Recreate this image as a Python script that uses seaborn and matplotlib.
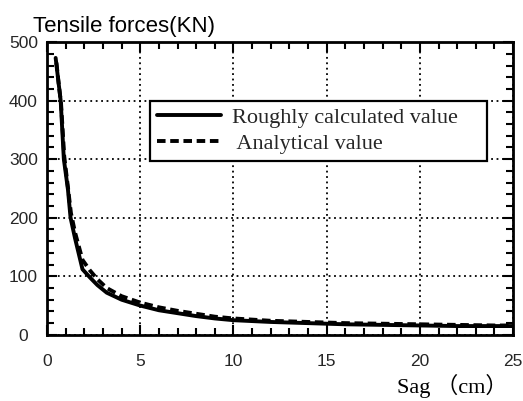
import pandas as pd
import matplotlib
matplotlib.use("Agg")
import matplotlib.pyplot as plt
import seaborn as sns
from matplotlib.ticker import MultipleLocator


# Data

sag_rough = [0.46, 0.6, 0.73, 0.9, 1.12, 1.26, 1.5, 1.9, 2.3, 2.7, 3.2, 4.0, 5.0,
             6.0, 7.0, 8.0, 9.0, 10.0, 12.0, 14.0, 16.0, 18.0, 20.0, 22.0, 24.0, 25.0]
force_rough = [473, 435, 400, 300, 248, 200, 165, 112, 98, 85, 72, 60, 50,
               42, 37, 32, 28, 25, 22, 20, 18, 17, 16, 15, 15, 15]

sag_analytic = [0.5, 0.62, 0.75, 0.92, 1.12, 1.28, 1.5, 1.9, 2.3, 2.7, 3.2, 4.0, 5.0,
                6.0, 7.0, 8.0, 9.0, 10.0, 12.0, 14.0, 16.0, 18.0, 20.0, 22.0, 24.0, 25.0]
force_analytic = [465, 430, 395, 305, 252, 208, 175, 128, 110, 95, 80, 66, 55,
                  47, 41, 36, 31, 28, 24, 22, 20, 19, 18, 17, 16, 16]

label_rough = "Roughly calculated value"
label_analytic = " Analytical value"

x_ticks = [0, 5, 10, 15, 20, 25]
y_ticks = [0, 100, 200, 300, 400, 500]

df_rough = pd.DataFrame({"sag": sag_rough, "force": force_rough})
df_analytic = pd.DataFrame({"sag": sag_analytic, "force": force_analytic})


# Style

sns.set_style("ticks")
plt.rcParams["font.family"] = ["Liberation Sans", "DejaVu Sans"]

fig = plt.figure(figsize=(5.23, 4.01), dpi=100)
ax = fig.add_axes([0.090, 0.165, 0.891, 0.730])

sns.lineplot(data=df_rough, x="sag", y="force", ax=ax, color="black",
             linewidth=2.8, label=label_rough, sort=False)
sns.lineplot(data=df_analytic, x="sag", y="force", ax=ax, color="black",
             linewidth=2.8, linestyle=(0, (2.2, 1.2)), label=label_analytic, sort=False)

ax.set_xlim(0, 25)
ax.set_ylim(0, 500)
ax.set_xticks(x_ticks)
ax.set_yticks(y_ticks)
ax.xaxis.set_minor_locator(MultipleLocator(1))
ax.yaxis.set_minor_locator(MultipleLocator(20))
ax.set_xlabel("")
ax.set_ylabel("")

ax.grid(True, which="major", color="black", linestyle=(0, (1, 2)), linewidth=1.3)

for side in ["left", "right", "top", "bottom"]:
    ax.spines[side].set_visible(True)
    ax.spines[side].set_linewidth(2)
    ax.spines[side].set_color("black")

ax.tick_params(which="both", direction="in", top=True, right=True,
               color="black", width=1.5)
ax.tick_params(which="major", length=7)
ax.tick_params(which="minor", length=5)
ax.tick_params(axis="x", which="major", pad=14, labelsize=12.5)
ax.tick_params(axis="y", which="major", pad=17, labelsize=12.5)

for t in ax.get_yticklabels():
    t.set_horizontalalignment("center")

# Legend
leg = ax.legend(loc="upper left", bbox_to_anchor=(0.221, 0.80, 0.723, 0.0),
                mode="expand", borderaxespad=0, frameon=True, fancybox=False,
                framealpha=1, edgecolor="black", borderpad=0.3, labelspacing=0.25,
                handlelength=2.9, handletextpad=0.5,
                prop={"family": "Liberation Serif", "size": 16})
leg.get_frame().set_linewidth(1.6)

# Title and axis label as figure text
fig.text(33 / 523, 1 - 32 / 401, "Tensile forces(KN)", fontsize=16,
         ha="left", va="baseline", color="black")
fig.text(508 / 523, 1 - 393 / 401, "Sag （cm）", fontsize=16,
         family=["Liberation Serif", "Noto Sans CJK JP"],
         ha="right", va="baseline", color="black")

fig.savefig("out.png", dpi=100)
